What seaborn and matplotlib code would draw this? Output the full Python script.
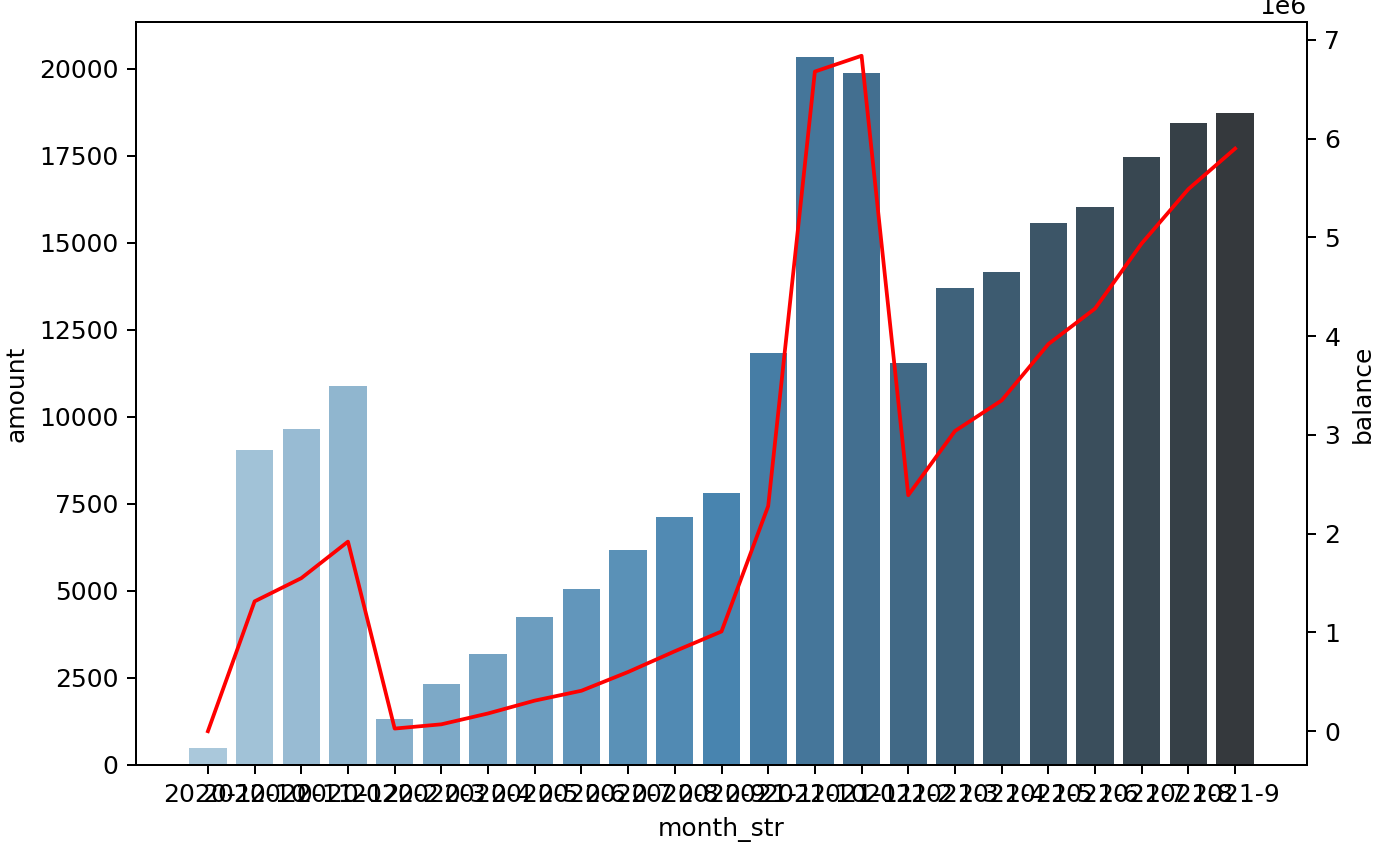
import numpy as np
import pandas as pd
import matplotlib
matplotlib.use("Agg")
import matplotlib.pyplot as plt
import seaborn as sns

month_str = ["2020-1", "2020-10", "2020-11", "2020-12", "2020-2", "2020-3", "2020-4",
             "2020-5", "2020-6", "2020-7", "2020-8", "2020-9", "2021-1", "2021-10",
             "2021-11", "2021-2", "2021-3", "2021-4", "2021-5", "2021-6", "2021-7",
             "2021-8", "2021-9"]
amount = [490, 9040, 9640, 10900, 1330, 2340, 3190, 4250, 5060, 6170, 7120, 7820,
          11830, 20330, 19880, 11560, 13710, 14160, 15580, 16030, 17480, 18440, 18740]
balance = [0.0, 1.315e6, 1.55e6, 1.92e6, 0.027e6, 0.07e6, 0.18e6, 0.31e6, 0.41e6,
           0.60e6, 0.81e6, 1.01e6, 2.28e6, 6.68e6, 6.84e6, 2.39e6, 3.04e6, 3.35e6,
           3.92e6, 4.28e6, 4.94e6, 5.49e6, 5.90e6]

df = pd.DataFrame({"month_str": month_str, "amount": amount, "balance": balance})

fig, ax = plt.subplots(figsize=(1388 / 180, 852 / 180), dpi=180)
fig.subplots_adjust(left=136 / 1388, right=1307 / 1388, top=1 - 22 / 852, bottom=1 - 765 / 852)

sns.barplot(data=df, x="month_str", y="amount", hue="month_str", palette="Blues_d",
            legend=False, ax=ax)

ax2 = ax.twinx()
pos = np.arange(len(month_str))
sns.lineplot(x=pos, y=df["balance"], color="red", ax=ax2)
ax2.set_ylabel("balance")
ax.set_xlim(-1.54, len(month_str) - 1 + 1.54)

fig.savefig("out.png", dpi=180)
